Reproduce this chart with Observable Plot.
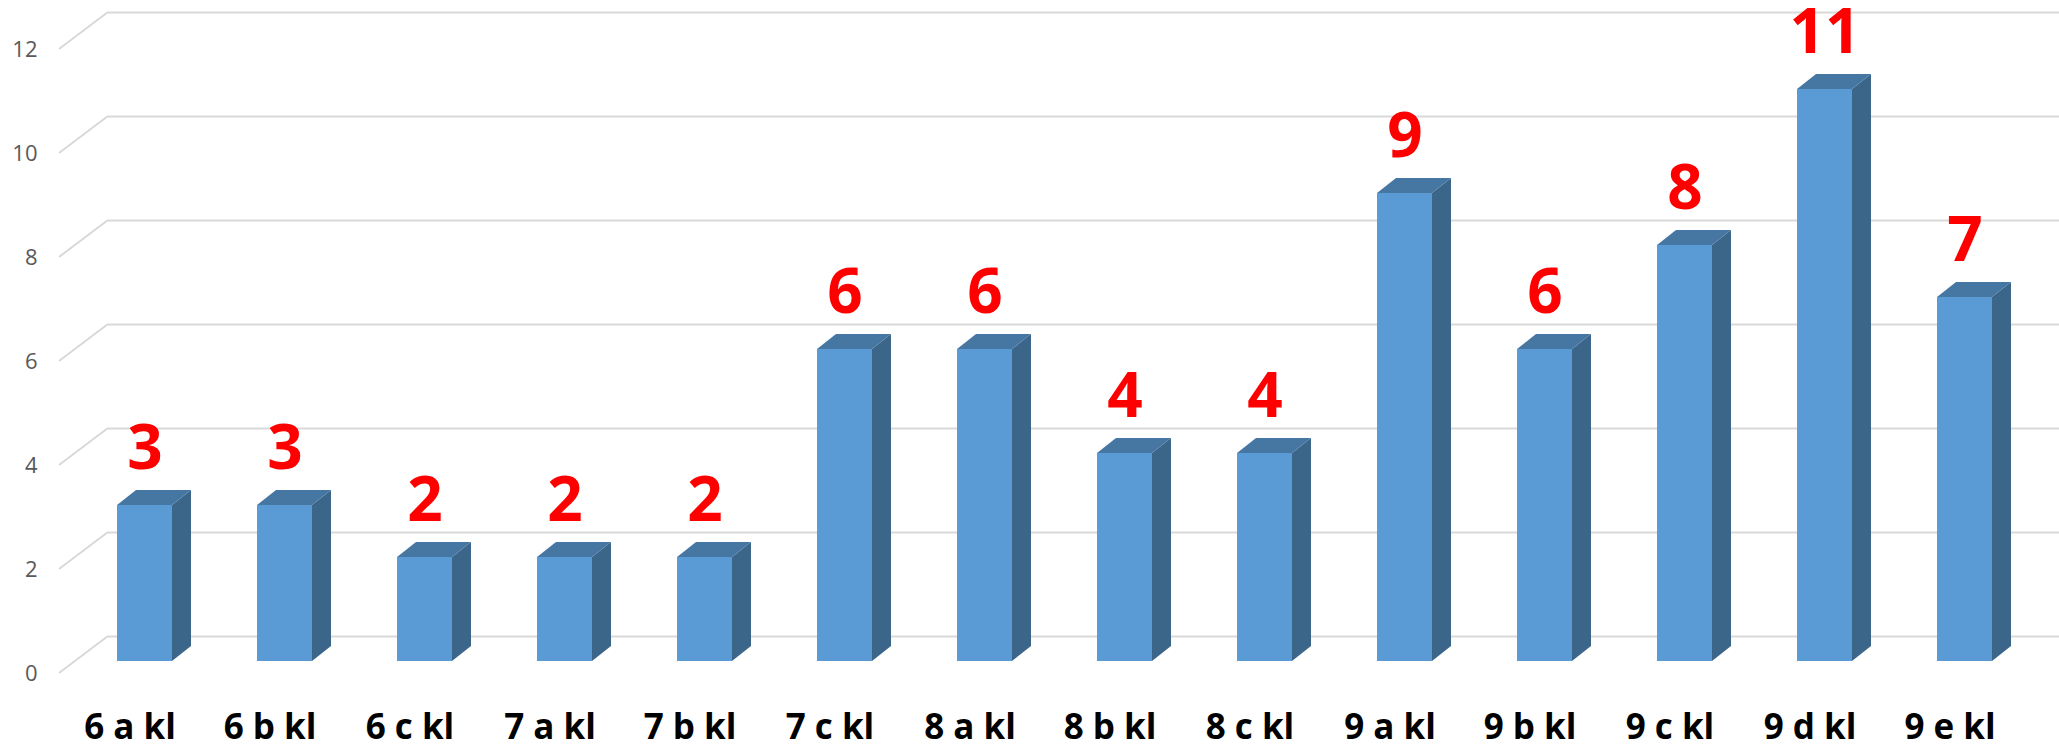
<!DOCTYPE html>
<html><head><meta charset="utf-8">
<script src="https://cdn.jsdelivr.net/npm/d3@7"></script>
<script src="https://cdn.jsdelivr.net/npm/@observablehq/plot@0.6"></script>
<style>body{margin:0;background:#fff;overflow:hidden}</style>
</head><body><div id="chart"></div>
<script>
// ---- data ----
const classes = ["6 a kl","6 b kl","6 c kl","7 a kl","7 b kl","7 c kl","8 a kl","8 b kl","8 c kl","9 a kl","9 b kl","9 c kl","9 d kl","9 e kl"];
const counts  = [3,3,2,2,2,6,6,4,4,9,6,8,11,7];
const yTicks  = [0,2,4,6,8,10,12];
const data = classes.map((c, i) => ({cls: c, n: counts[i]}));

// ---- 3D styling (pixel depths) ----
const DX = 19, DY = 15;   // bar depth
const GX = 49, GY = 37;   // floor/wall depth
const BACK = 25;          // back wall offset above bar front plane

function bandwidth(s) { return typeof s.bandwidth === "function" ? s.bandwidth() : s.bandwidth; }

const chart = Plot.plot({
  width: 2059, height: 746,
  marginLeft: 108, marginRight: 0, marginTop: 0, marginBottom: 46,
  style: {background: "#fff", fontFamily: "'Open Sans', sans-serif", overflow: "visible"},
  x: {type: "band", domain: classes, range: [74.5, 2034.5], paddingInner: 85/140, paddingOuter: 85/280, label: null},
  y: {domain: [0, 12], range: [661, 37], label: null},
  marks: [
    // back wall gridlines
    Plot.ruleY(yTicks, {stroke: "#d9d9d9", strokeWidth: 2, dy: -BACK}),
    // diagonal side-wall gridlines
    Plot.ruleY(yTicks, {render: (index, scales, values, dims) => {
      const g = d3.create("svg:g").attr("stroke", "#d9d9d9").attr("stroke-width", 2);
      for (const i of index) {
        const y = scales.y(yTicks[i]);
        g.append("line")
          .attr("x1", dims.marginLeft - GX).attr("y1", y - BACK + GY)
          .attr("x2", dims.marginLeft).attr("y2", y - BACK);
      }
      return g.node();
    }}),
    Plot.axisY(yTicks, {anchor: "left", tickSize: 0, tickPadding: 71, dy: GY - BACK, fontSize: 22,
      color: "#595959", label: null, tickFormat: d => String(d)}),
    // side + top faces of bars
    Plot.barY(data, {x: "cls", y: "n", render: (index, scales) => {
      const g = d3.create("svg:g");
      const bw = bandwidth(scales.x);
      for (const i of index) {
        const x0 = scales.x(data[i].cls), x1 = x0 + bw;
        const yt = scales.y(data[i].n), yb = scales.y(0);
        g.append("path").attr("fill", "#3b6589")
          .attr("d", `M${x1},${yt}L${x1 + DX},${yt - DY}L${x1 + DX},${yb - DY}L${x1},${yb}Z`);
        g.append("path").attr("fill", "#4677a3")
          .attr("d", `M${x0},${yt}L${x0 + DX},${yt - DY}L${x1 + DX},${yt - DY}L${x1},${yt}Z`);
      }
      return g.node();
    }}),
    // front faces
    Plot.barY(data, {x: "cls", y: "n", fill: "#5b9bd5"}),
    // value labels
    Plot.text(data, {x: "cls", y: "n", text: d => String(d.n), dy: -56, lineAnchor: "middle",
      fill: "#ff0000", fontSize: 62, fontWeight: "bold"}),
    // category labels
    Plot.axisX({anchor: "bottom", tickSize: 0, tickPadding: 14, dx: -15, fontSize: 35, fontWeight: "bold", color: "#000", label: null})
  ]
});
document.getElementById("chart").append(chart);
</script>
</body></html>
